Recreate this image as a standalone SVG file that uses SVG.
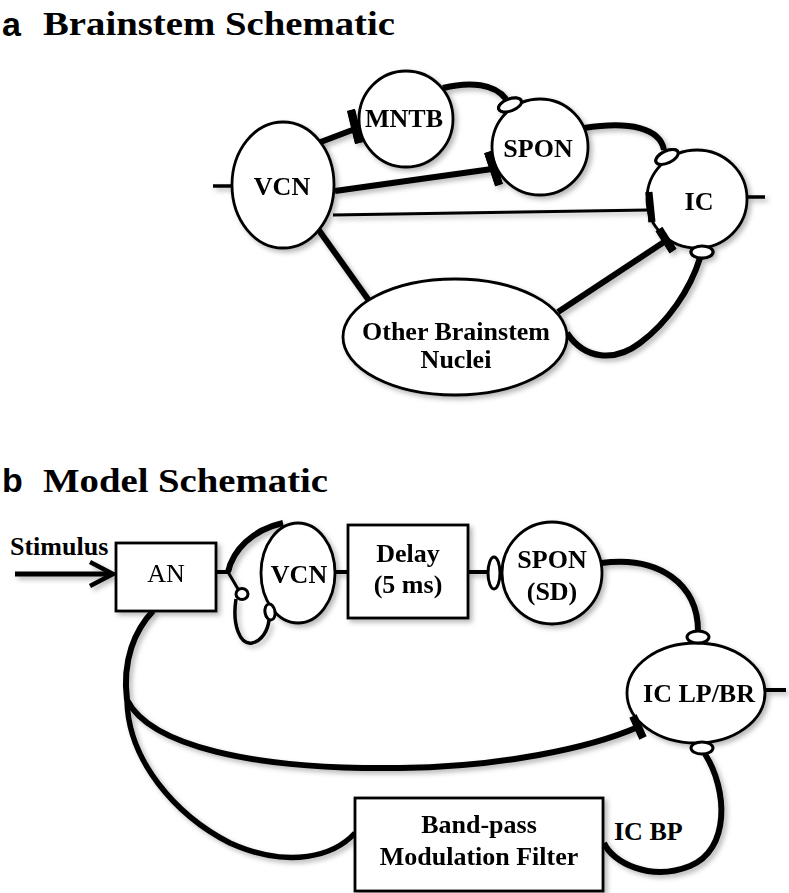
<svg xmlns="http://www.w3.org/2000/svg" width="789" height="893" viewBox="0 0 789 893">
<defs>
<filter id="sh" x="-20%" y="-20%" width="140%" height="140%">
<feDropShadow dx="3" dy="3" stdDeviation="2.5" flood-color="#000" flood-opacity="0.28"/>
</filter>
</defs>
<style>
.node{fill:#fff;stroke:#000;stroke-width:2.8}
.lbl{font-family:"Liberation Serif","Times New Roman",serif;font-weight:bold;font-size:26px;text-anchor:middle;fill:#000}
.title{font-family:"Liberation Serif","Times New Roman",serif;font-weight:bold;fill:#000}
.tag{font-family:"Liberation Sans",Arial,sans-serif;font-weight:bold;font-size:34px;fill:#000}
.thick{fill:none;stroke:#000;stroke-width:6}
.mid{fill:none;stroke:#000;stroke-width:3.5}
.thin{fill:none;stroke:#000;stroke-width:3}
.bar{stroke:#000;stroke-width:8;stroke-linecap:butt}
.syn{fill:#fff;stroke:#000;stroke-width:3}
</style>
<rect width="789" height="893" fill="#fff"/>

<!-- Titles -->
<text class="tag" x="2" y="36">a</text>
<text class="title" x="43" y="35" font-size="34" textLength="352" lengthAdjust="spacingAndGlyphs">Brainstem Schematic</text>
<text class="tag" x="2" y="492">b</text>
<text class="title" x="43" y="492" font-size="33" textLength="285" lengthAdjust="spacingAndGlyphs">Model Schematic</text>

<!-- Panel a connectors -->
<g id="connectors-a" filter="url(#sh)">
<line class="mid" x1="213" y1="186" x2="233" y2="186"/>
<line class="mid" x1="747" y1="197" x2="765" y2="197"/>
<line class="thick" x1="318" y1="143" x2="355" y2="129"/>
<line class="bar" x1="351" y1="110" x2="359" y2="143"/>
<path class="thick" d="M 443 88 C 470 81, 495 84, 506 99"/>
<ellipse class="syn" cx="510" cy="105" rx="12" ry="6" transform="rotate(-20 510 105)"/>
<line class="thick" x1="335" y1="191" x2="492" y2="169"/>
<line class="bar" x1="488" y1="152" x2="499" y2="185"/>
<path class="thick" d="M 584 128 C 630 121, 660 128, 664 150"/>
<ellipse class="syn" cx="667" cy="157" rx="12" ry="6" transform="rotate(-25 667 157)"/>
<line class="thin" x1="333" y1="215" x2="648" y2="210"/>
<line class="bar" x1="649" y1="192" x2="652" y2="222" style="stroke-width:7"/>
<line class="thick" x1="318" y1="229" x2="370" y2="302"/>
<line class="thick" x1="558" y1="312" x2="664" y2="242"/>
<line class="bar" x1="659" y1="229" x2="673" y2="251"/>
<path class="thick" d="M 567 333 C 585 360, 615 362, 640 343 C 668 322, 690 290, 700 258"/>
<ellipse class="syn" cx="702" cy="252" rx="11" ry="6"/>
</g>

<!-- Panel a nodes -->
<g id="a-vcn" filter="url(#sh)"><ellipse class="node" cx="283" cy="185" rx="51" ry="63"/><text class="lbl" x="282" y="195">VCN</text></g>
<g id="a-mntb" filter="url(#sh)"><ellipse class="node" cx="406" cy="119" rx="47" ry="48"/><text class="lbl" x="404" y="127">MNTB</text></g>
<g id="a-spon" filter="url(#sh)"><ellipse class="node" cx="540" cy="147" rx="48" ry="48"/><text class="lbl" x="538" y="157">SPON</text></g>
<g id="a-ic" filter="url(#sh)"><ellipse class="node" cx="697" cy="199" rx="50" ry="49"/><text class="lbl" x="699" y="210">IC</text></g>
<g id="a-other" filter="url(#sh)"><ellipse class="node" cx="455" cy="337" rx="112" ry="58"/><text class="lbl" x="456" y="340">Other Brainstem</text><text class="lbl" x="456" y="368">Nuclei</text></g>

<!-- Panel a terminals drawn over nodes -->
<g id="a-terminals">
<line class="bar" x1="351" y1="110" x2="359" y2="143"/>
<line class="bar" x1="488" y1="152" x2="499" y2="185"/>
<line class="bar" x1="649" y1="192" x2="652" y2="222" style="stroke-width:7"/>
<line class="bar" x1="659" y1="229" x2="673" y2="251"/>
<ellipse class="syn" cx="510" cy="105" rx="12" ry="6" transform="rotate(-20 510 105)"/>
<ellipse class="syn" cx="667" cy="157" rx="12" ry="6" transform="rotate(-25 667 157)"/>
<ellipse class="syn" cx="702" cy="252" rx="11" ry="6"/>
</g>

<!-- Panel b connectors -->
<g id="connectors-b" filter="url(#sh)">
<line class="thick" x1="15" y1="574" x2="111" y2="574" style="stroke-width:5"/>
<polyline class="mid" points="90,562 113,574 90,586" style="stroke-width:4.5"/>
<line class="mid" x1="216" y1="572" x2="229" y2="572" style="stroke-width:4"/>
<path class="thick" d="M 228 572 C 233 550, 252 530, 283 523"/>
<line class="thin" x1="228" y1="572" x2="238" y2="589"/>
<path class="mid" d="M 236 599 C 232 625, 240 645, 252 643 C 262 641, 268 630, 269 620"/>
<line class="mid" x1="335" y1="572" x2="348" y2="572" style="stroke-width:4"/>
<line class="mid" x1="468" y1="572" x2="489" y2="572" style="stroke-width:4"/>
<path class="thick" d="M 601 563 C 660 555, 698 585, 698 631"/>
<line class="mid" x1="765" y1="690" x2="786" y2="690" style="stroke-width:4"/>
<path class="thick" d="M 705 754 C 728 790, 730 850, 690 866 C 650 882, 612 862, 604 843"/>
<path class="thick" d="M 153 611 C 135 630, 122 660, 127 700"/>
<path class="thick" d="M 127 700 C 150 745, 250 770, 400 768 C 500 767, 590 748, 638 727"/>
<path class="thick" d="M 127 700 C 128 760, 175 815, 230 843 C 290 870, 335 855, 355 833" style="stroke-width:5.5"/>
</g>

<!-- Panel b nodes -->
<g id="b-an" filter="url(#sh)"><rect class="node" x="116" y="543" width="100" height="68"/><text class="lbl" x="166" y="582" style="font-weight:normal">AN</text></g>
<g id="b-vcn" filter="url(#sh)"><ellipse class="node" cx="298" cy="573" rx="37" ry="50"/><text class="lbl" x="299" y="583">VCN</text></g>
<g id="b-delay" filter="url(#sh)"><rect class="node" x="348" y="525" width="120" height="93"/><text class="lbl" x="408" y="562">Delay</text><text class="lbl" x="408" y="593">(5 ms)</text></g>
<g id="b-spon" filter="url(#sh)"><ellipse class="node" cx="552" cy="573" rx="50" ry="51"/><text class="lbl" x="552" y="568">SPON</text><text class="lbl" x="552" y="600">(SD)</text></g>
<g id="b-iclpbr" filter="url(#sh)"><ellipse class="node" cx="696" cy="693" rx="69" ry="50"/><text class="lbl" x="699" y="702">IC LP/BR</text></g>
<g id="b-bpfilter" filter="url(#sh)"><rect class="node" x="355" y="798" width="248" height="93"/><text class="lbl" x="479" y="833">Band-pass</text><text class="lbl" x="479" y="865">Modulation Filter</text></g>

<!-- Panel b terminals and labels -->
<g id="b-terminals">
<ellipse class="syn" cx="242" cy="594" rx="6" ry="5.5"/>
<ellipse class="syn" cx="270" cy="612" rx="5" ry="8" transform="rotate(-10 270 612)"/>
<ellipse class="syn" cx="494" cy="573" rx="6" ry="16"/>
<ellipse class="syn" cx="698" cy="637" rx="11" ry="6"/>
<ellipse class="syn" cx="702" cy="748" rx="11" ry="6"/>
<line class="bar" x1="633" y1="716" x2="643" y2="738"/>
</g>
<text class="lbl" x="10" y="555" style="text-anchor:start">Stimulus</text>
<text class="lbl" x="614" y="840" style="text-anchor:start;font-size:26px">IC BP</text>
</svg>
